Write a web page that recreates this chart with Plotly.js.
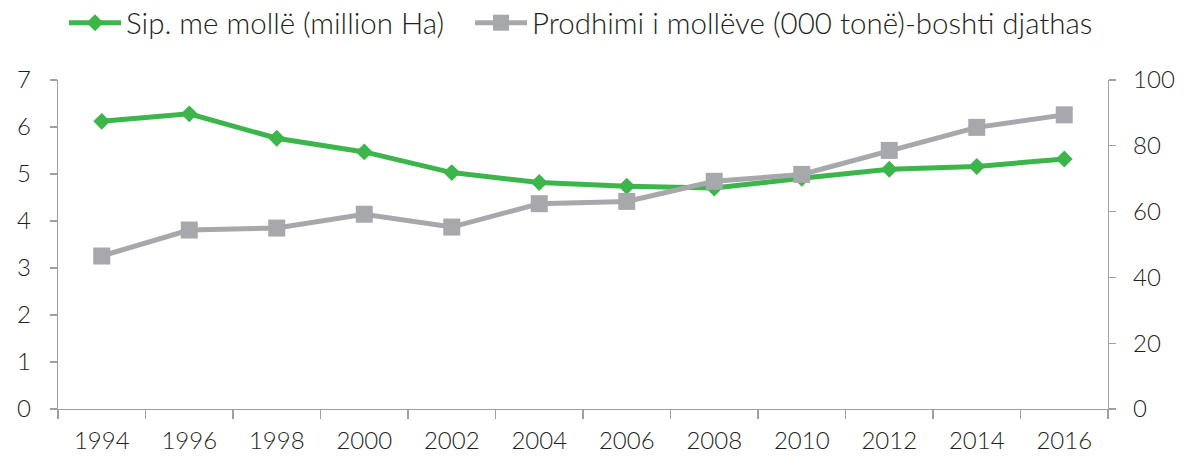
<!DOCTYPE html>
<html>
<head>
<meta charset="utf-8">
<script src="https://cdn.plot.ly/plotly-3.0.1.min.js"></script>
<style>html,body{margin:0;padding:0;background:#fff;}#chart{width:1186px;height:467px;}</style>
</head>
<body>
<div id="chart"></div>
<script>
const years = ["1994","1996","1998","2000","2002","2004","2006","2008","2010","2012","2014","2016"];
const areaValues = [6.12, 6.28, 5.76, 5.47, 5.03, 4.82, 4.74, 4.70, 4.91, 5.10, 5.16, 5.32];
const productionValues = [46.5, 54.4, 55.0, 59.2, 55.3, 62.4, 63.1, 69.2, 71.3, 78.6, 85.6, 89.4];
const areaName = "Sip. me mollë (million Ha)";
const productionName = "Prodhimi i mollëve (000 tonë)-boshti djathas";

const fontFam = "'Lato Light', Lato, 'Open Sans', sans-serif";
const textCol = "#231f20";
const axisCol = "#a0a0a0";

const traces = [
  {
    x: years, y: areaValues, name: areaName, type: "scatter", mode: "lines+markers",
    line: {color: "#3cb54a", width: 5},
    marker: {symbol: "diamond", size: 13, color: "#3cb54a"},
    yaxis: "y", legend: "legend"
  },
  {
    x: years, y: productionValues, name: productionName, type: "scatter", mode: "lines+markers",
    line: {color: "#a7a8ac", width: 5},
    marker: {symbol: "square", size: 17, color: "#a7a8ac"},
    yaxis: "y2", legend: "legend2"
  }
];

const legendBase = {
  orientation: "h", xref: "container", xanchor: "left",
  y: 1 - 23/467, yref: "container", yanchor: "middle",
  font: {family: fontFam, size: 29.5, color: textCol}, itemwidth: 52,
  bgcolor: "rgba(0,0,0,0)"
};

const layout = {
  width: 1186, height: 467,
  margin: {l: 58, r: 78, t: 80, b: 58},
  paper_bgcolor: "#fff", plot_bgcolor: "#fff",
  font: {family: fontFam, size: 24, color: textCol},
  showlegend: true,
  legend: Object.assign({}, legendBase, {x: 64/1186}),
  legend2: Object.assign({}, legendBase, {x: 470/1186}),
  xaxis: {
    type: "category", range: [-0.5, 11.5],
    showline: true, linecolor: axisCol, linewidth: 1.3,
    ticks: "outside", tickson: "boundaries", ticklen: 9, tickcolor: axisCol, tickwidth: 1.3,
    showgrid: false, zeroline: false,
    tickfont: {family: fontFam, size: 24, color: textCol},
    ticklabelstandoff: 10
  },
  yaxis: {
    range: [0, 7], dtick: 1, tick0: 0,
    showline: true, linecolor: axisCol, linewidth: 1.3,
    ticks: "outside", ticklen: 7, tickcolor: axisCol, tickwidth: 1.3,
    showgrid: false, zeroline: false,
    tickfont: {family: fontFam, size: 24, color: textCol},
    ticklabelstandoff: 14
  },
  yaxis2: {
    range: [0, 100], dtick: 20, tick0: 0,
    overlaying: "y", side: "right",
    showline: true, linecolor: axisCol, linewidth: 1.3,
    ticks: "outside", ticklen: 7, tickcolor: axisCol, tickwidth: 1.3,
    showgrid: false, zeroline: false,
    tickfont: {family: fontFam, size: 24, color: textCol},
    ticklabelstandoff: 12
  }
};

Plotly.newPlot("chart", traces, layout, {displayModeBar: false, staticPlot: true});
</script>
</body>
</html>
